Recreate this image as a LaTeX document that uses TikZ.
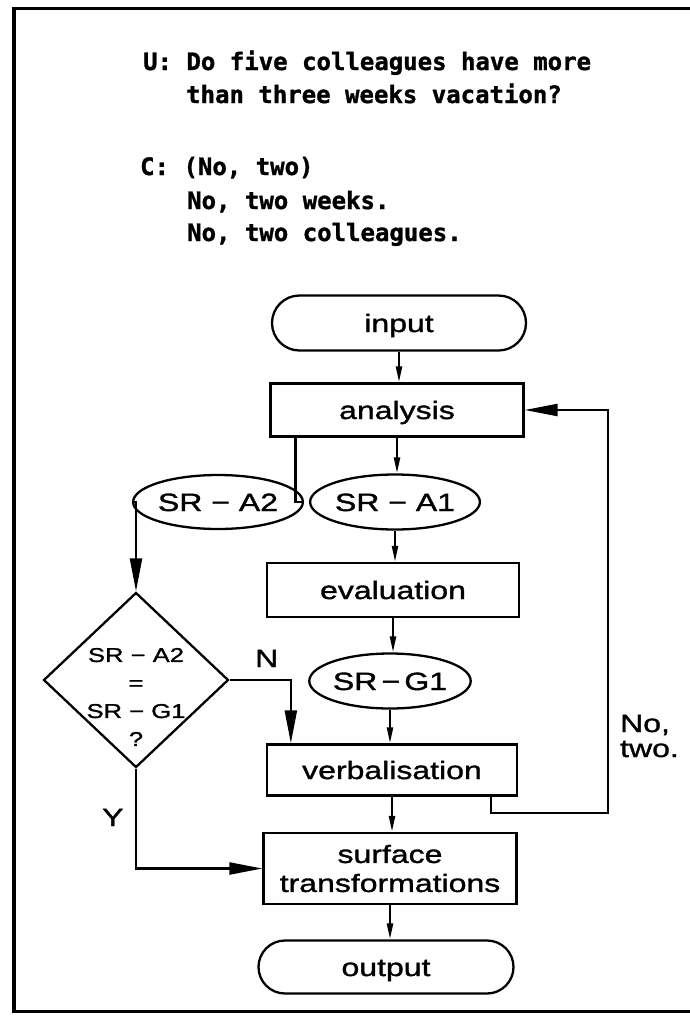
\documentclass[tikz,border=0pt]{standalone}
\usepackage{fontspec}
\setmainfont{Liberation Sans}
\newfontfamily\headfont{DejaVu Sans Mono}[FakeBold=1.2]
\newfontfamily\chartfont{Liberation Sans}[FakeStretch=1.28,FakeBold=1.3]
\usetikzlibrary{shapes.geometric,shapes.misc,arrows.meta}

\begin{document}
\begin{tikzpicture}[x=1pt,y=-1pt,line width=2.3pt,
  head/.style={font=\headfont\bfseries\fontsize{24}{33}\selectfont, inner sep=0pt, anchor=base west},
  chart/.style={font=\chartfont\fontsize{25}{29}\selectfont},
  label text/.style={chart, inner sep=0pt, anchor=base west},
  oneline/.style={text height=18pt, text depth=0pt},
  terminal/.style={chart, oneline, draw, rounded rectangle, inner sep=0pt, minimum width=254pt, minimum height=55pt},
  process/.style={chart, draw, rectangle, inner sep=0pt, minimum width=252pt, minimum height=53pt},
  datum/.style={chart, oneline, draw, ellipse, inner sep=0pt, minimum width=146pt, minimum height=55pt},
  decision/.style={draw, diamond, inner sep=0pt, minimum width=185pt, minimum height=175pt},
  decision text/.style={font=\chartfont\fontsize{20}{28}\selectfont, align=center, inner sep=0pt},
  flow/.style={-{Triangle[length=16pt,width=6pt]}},
  bigflow/.style={-{Triangle[length=33pt,width=12pt]}}
]
\useasboundingbox (0,0) rectangle (690,1021);

% outer frame, open on the right
\draw[line width=3.5pt] (690,8.5) -- (14,8.5) -- (14,1011.5) -- (690,1011.5);

% example dialogue
\node[head] (u1) at (142,70)  {U: Do five colleagues have more};
\node[head] (u2) at (185,103) {than three weeks vacation?};
\node[head] (c1) at (139,175) {C: (No, two)};
\node[head] (c2) at (186,209) {No, two weeks.};
\node[head] (c3) at (186,241) {No, two colleagues.};

% flowchart nodes
\node[terminal] (input) at (399,323) {input};
\node[process, oneline, minimum width=253pt] (analysis) at (397,410) {analysis};
\node[datum, minimum width=147pt, minimum height=54pt] (sra2) at (218,502) {SR − A2};
\node[datum] (sra1) at (395,502) {SR − A1};
\node[process, oneline, minimum height=54pt] (evaluation) at (393,590) {evaluation};
\node[datum, minimum width=145pt] (srg1) at (390,681) {SR\,−\,G1};
\node[decision] (dia) at (136,680) {};
\node[decision text] (diatext) at (136,697) {SR − A2\\=\\SR − G1\\?};
\node[process, oneline, minimum width=250pt, minimum height=51pt] (verb) at (392,770) {verbalisation};
\node[process, align=center, minimum width=253pt, minimum height=71pt] (surf) at (390,868.5) {surface\\transformations};
\node[terminal, minimum width=255pt, minimum height=53pt] (output) at (386,967) {output};

% labels
\node[label text] (nlab) at (254,667) {N};
\node[label text] (ylab) at (101,826) {Y};
\node[label text] (nolab) at (619,732) {No,};
\node[label text] (twolab) at (619,757) {two.};

% connectors
\draw[flow] (input.south) -- (input.south |- analysis.north);
\draw[flow] (analysis.south) -- (analysis.south |- sra1.north);
\draw ([xshift=26pt]analysis.south west) |- (sra2.east);
\draw[bigflow] (sra2.west) -| (dia.north);
\draw[flow] (sra1.south) -- (sra1.south |- evaluation.north);
\draw[flow] (evaluation.south) -- (evaluation.south |- srg1.north);
\draw[flow] (srg1.south) -- (srg1.south |- verb.north);
\draw[bigflow] (dia.east) -| ([xshift=25pt]verb.north west);
\draw[flow] (verb.south) -- (verb.south |- surf.north);
\draw[bigflow] (dia.south) |- (surf.west);
\draw[flow] (surf.south) -- (surf.south |- output.north);
\coordinate (loopcorner) at (608,813);
\draw[bigflow] ([xshift=-27pt]verb.south east) |- (loopcorner) |- (analysis.east);
\end{tikzpicture}
\end{document}
